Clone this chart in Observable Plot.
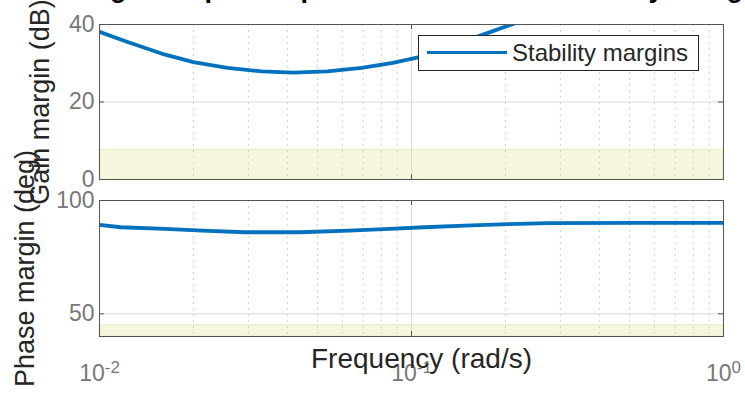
<!DOCTYPE html>
<html>
<head>
<meta charset="utf-8">
<script src="https://cdn.jsdelivr.net/npm/d3@7"></script>
<script src="https://cdn.jsdelivr.net/npm/@observablehq/plot@0.6"></script>
<style>
  html, body { margin: 0; padding: 0; background: #fff; }
  #fig { position: relative; width: 745px; height: 393px; overflow: hidden; background: #fff;
         font-family: "Liberation Sans", Arial, sans-serif; }
  #fig svg.panel { position: absolute; left: 0; overflow: visible; background: transparent !important; }
  #title { position: absolute; left: 62px; top: -25px; font-size: 27px; line-height: 27px; font-weight: bold;
           color: #000; white-space: nowrap; z-index: 5; }
  #legend { position: absolute; left: 418px; top: 35px; width: 279px; height: 34px; background: #fff;
            border: 1px solid #262626; box-sizing: content-box; }
  #legend .swatch { position: absolute; left: 8px; top: 15px; width: 80px; height: 0;
                    border-top: 3.5px solid #0072BD; }
  #legend .lab { position: absolute; left: 93px; top: 3px; font-size: 24px; line-height: 28px; color: #262626;
                 white-space: nowrap; }
</style>
</head>
<body>
<div id="fig"></div>
<script>
// ---- text ----
const titleText = "Margins at plant inputs as tuned and shown by using disk margins";
const gainLabel = "Gain margin (dB)";
const phaseLabel = "Phase margin (deg)";
const xLabel = "Frequency (rad/s)";
const legendLabel = "Stability margins";

// ---- axes ----
const freqRange = [0.01, 1];
const majorFreqTicks = [0.01, 0.1, 1];
const majorFreqBase = ["10", "10", "10"];
const majorFreqExp = ["-2", "-1", "0"];
const minorFreqTicks = [0.02, 0.03, 0.04, 0.05, 0.06, 0.07, 0.08, 0.09, 0.2, 0.3, 0.4, 0.5, 0.6, 0.7, 0.8, 0.9];
const gainRange = [0, 40];
const gainTicks = [0, 20, 40];
const phaseRange = [40, 100];
const phaseTicks = [50, 100];

// ---- forbidden regions (shaded) ----
const gainForbidden = [0, 7.66];
const phaseForbidden = [40, 45];

// ---- series ----
const gainFreq   = [0.01, 0.0123, 0.0158, 0.02, 0.0257, 0.0331, 0.0417, 0.0537, 0.0692, 0.0871, 0.105, 0.174, 0.214, 0.257];
const gainMargin = [38.1, 35.5,   32.5,   30.3, 28.8,   27.9,   27.6,   27.9,   28.8,   30.1,   31.5,  37.7,  40.3,  43.0];
const phaseFreq   = [0.01, 0.0117, 0.0162, 0.0214, 0.0292, 0.0437, 0.0631, 0.0851, 0.110, 0.148, 0.204, 0.275, 0.513, 1];
const phaseMargin = [89.2, 88.2,   87.5,   86.7,   86.0,   86.0,   86.7,   87.5,   88.2,  88.9,  89.6,  90.0,  90.1,  90.1];

const W = 745, ML = 99, MR = 22;
const FONT = '"Liberation Sans", Arial, sans-serif';
const TICKCOL = "#777";
const LABCOL = "#262626";

function panel({height, marginTop, marginBottom, yRange, yTicks, band, freq, values, ylabel, ylabelDx, xAxis}) {
  const innerH = height - marginTop - marginBottom;
  const innerW = W - ML - MR;
  const rows = freq.map((f, i) => ({f, v: values[i]}));
  const marks = [
    Plot.rect([{x1: freqRange[0], x2: freqRange[1], y1: band[0], y2: band[1]}],
      {x1: "x1", x2: "x2", y1: "y1", y2: "y2", fill: "#f6f5dd", stroke: "#ece9c0", strokeWidth: 1}),
    Plot.gridX(minorFreqTicks, {stroke: "#cfcfcf", strokeOpacity: 1, strokeDasharray: "2,4"}),
    Plot.gridX(majorFreqTicks, {stroke: "#dadada", strokeOpacity: 1}),
    Plot.gridY(yTicks, {stroke: "#dadada", strokeOpacity: 1}),
    Plot.line(rows, {x: "f", y: "v", stroke: "#0072BD", strokeWidth: 3.8, clip: true}),
    Plot.frame({stroke: "#555", strokeWidth: 1}),
    // inward tick marks
    Plot.gridX(majorFreqTicks, {stroke: "#555", strokeOpacity: 1, insetBottom: innerH - 5}),
    Plot.gridX(majorFreqTicks, {stroke: "#555", strokeOpacity: 1, insetTop: innerH - 5}),
    Plot.gridY(yTicks, {stroke: "#555", strokeOpacity: 1, insetRight: innerW - 5}),
    Plot.gridY(yTicks, {stroke: "#555", strokeOpacity: 1, insetLeft: innerW - 5}),
    Plot.axisY(yTicks, {anchor: "left", tickSize: 0, tickPadding: 5, fontSize: 23, fill: TICKCOL, label: null}),
    Plot.text([ylabel], {text: d => d, frameAnchor: "left", textAnchor: "middle", lineAnchor: "middle",
      rotate: -90, dx: ylabelDx, fontSize: 27, fill: LABCOL})
  ];
  if (xAxis) {
    marks.push(
      Plot.axisX(majorFreqTicks, {anchor: "bottom", tickSize: 0, tickPadding: 28, fontSize: 23, fill: TICKCOL,
        label: null, tickFormat: d => majorFreqBase[majorFreqTicks.indexOf(d)] + majorFreqExp[majorFreqTicks.indexOf(d)]}),
      Plot.text([xLabel], {text: d => d, frameAnchor: "bottom", textAnchor: "middle", lineAnchor: "top",
        dx: 10, dy: 12, fontSize: 28, fill: LABCOL})
    );
  } else {
    marks.push(Plot.axisX({ticks: [], label: null}));
  }
  const svg = Plot.plot({
    width: W, height, marginLeft: ML, marginRight: MR, marginTop, marginBottom,
    style: {fontFamily: FONT, background: "transparent", overflow: "visible"},
    x: {type: "log", domain: freqRange},
    y: {domain: yRange},
    marks
  });
  svg.classList.add("panel");
  if (xAxis) {
    d3.select(svg).selectAll('[aria-label="x-axis tick label"] text').each(function() {
      const t = d3.select(this);
      const s = t.text();
      const idx = majorFreqTicks.findIndex((v, k) => majorFreqBase[k] + majorFreqExp[k] === s);
      if (idx < 0) return;
      t.text(null);
      t.append("tspan").text(majorFreqBase[idx]);
      t.append("tspan").attr("dy", "-0.45em").attr("font-size", "17px").text(majorFreqExp[idx]);
    });
  }
  return svg;
}

const fig = document.getElementById("fig");

const gainPanel = panel({height: 190, marginTop: 24, marginBottom: 11, yRange: gainRange, yTicks: gainTicks,
  band: gainForbidden, freq: gainFreq, values: gainMargin, ylabel: gainLabel, ylabelDx: -59, xAxis: false});
gainPanel.style.top = "0px";

const phasePanel = panel({height: 203, marginTop: 10, marginBottom: 57, yRange: phaseRange, yTicks: phaseTicks,
  band: phaseForbidden, freq: phaseFreq, values: phaseMargin, ylabel: phaseLabel, ylabelDx: -74, xAxis: true});
phasePanel.style.top = "190px";

fig.appendChild(phasePanel);
fig.appendChild(gainPanel);

const title = document.createElement("div");
title.id = "title";
title.textContent = titleText;
fig.appendChild(title);

const legend = document.createElement("div");
legend.id = "legend";
legend.innerHTML = '<div class="swatch"></div><div class="lab"></div>';
legend.querySelector(".lab").textContent = legendLabel;
fig.appendChild(legend);
</script>
</body>
</html>
